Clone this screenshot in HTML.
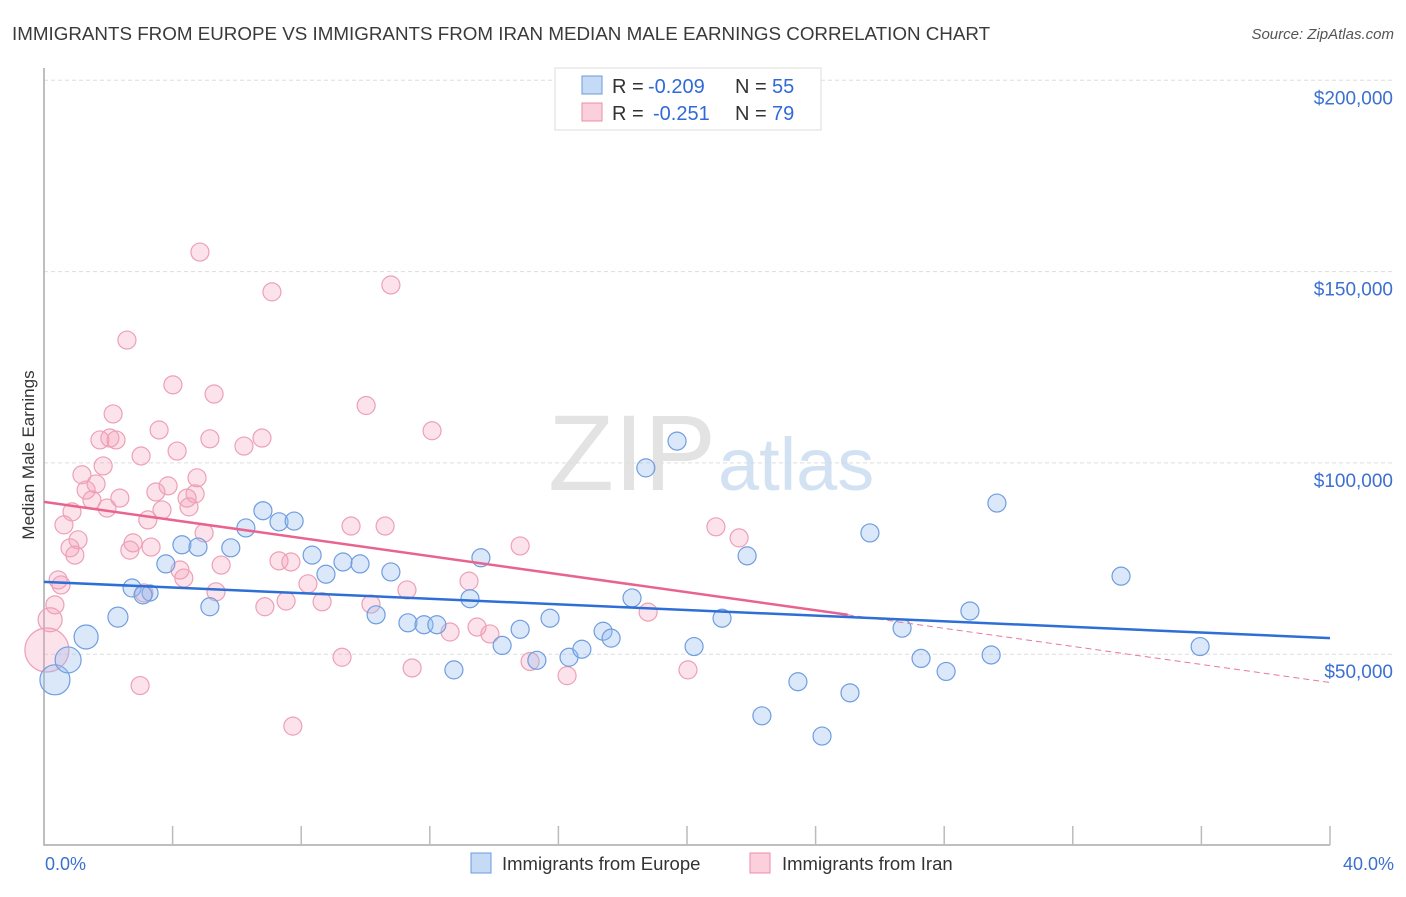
<!DOCTYPE html>
<html><head><meta charset="utf-8"><style>
body{margin:0;background:#fff;font-family:"Liberation Sans",sans-serif;}
svg text{font-family:"Liberation Sans",sans-serif;}
</style></head><body>
<svg id="chart" width="1406" height="892" viewBox="0 0 1406 892" xmlns="http://www.w3.org/2000/svg">
<text x="12" y="40" font-size="18.8" fill="#3a3a3a">IMMIGRANTS FROM EUROPE VS IMMIGRANTS FROM IRAN MEDIAN MALE EARNINGS CORRELATION CHART</text>
<text x="1394" y="39" font-size="15" fill="#555" font-style="italic" text-anchor="end">Source: ZipAtlas.com</text>
<g id="grid"></g>
<text x="716" y="490" font-size="108" fill="#ddd" text-anchor="end" font-family="Liberation Serif" opacity="0.8">ZIP</text>
<text x="718" y="490" font-size="74" fill="#c9dcf0" opacity="0.8">atlas</text>
<g id="dots"></g>
<g id="trends"></g>
<text x="34" y="455" font-size="17" fill="#333" text-anchor="middle" transform="rotate(-90 34 455)">Median Male Earnings</text>
<text x="45" y="870" font-size="18" fill="#3b6fd0">0.0%</text>
<text x="1394" y="870" font-size="18" fill="#3b6fd0" text-anchor="end">40.0%</text>
<g>
<rect x="555" y="68" width="266" height="62" fill="#fff" stroke="#ddd"/>
<rect x="582" y="76" width="20" height="18" fill="#c5daf5" stroke="#6a9ae0"/>
<rect x="582" y="103" width="20" height="18" fill="#fbd0dc" stroke="#ec8ca8"/>
<text x="612" y="93" font-size="20" fill="#333">R =</text>
<text x="648" y="93" font-size="20" fill="#2f6ad8">-0.209</text>
<text x="735" y="93" font-size="20" fill="#333">N =</text>
<text x="772" y="93" font-size="20" fill="#2f6ad8">55</text>
<text x="612" y="120" font-size="20" fill="#333">R =</text>
<text x="653" y="120" font-size="20" fill="#2f6ad8">-0.251</text>
<text x="735" y="120" font-size="20" fill="#333">N =</text>
<text x="772" y="120" font-size="20" fill="#2f6ad8">79</text>
</g>
<g>
<rect x="471" y="853" width="20" height="20" fill="#c5daf5" stroke="#6a9ae0"/>
<text x="502" y="870" font-size="18.5" fill="#333">Immigrants from Europe</text></g>
<g>
<rect x="750" y="853" width="20" height="20" fill="#fbd0dc" stroke="#ec8ca8"/>
<text x="782" y="870" font-size="18.5" fill="#333">Immigrants from Iran</text></g>
</svg>
<script>
const yTicks=[50000,100000,150000,200000];
const yTickLabels=["$50,000","$100,000","$150,000","$200,000"];
const europeX=[0.34,0.75,1.31,2.30,2.74,3.30,3.79,4.29,4.79,5.16,5.81,6.28,6.81,7.31,7.78,8.34,8.77,9.30,9.83,10.33,10.79,11.32,11.82,12.22,12.75,13.25,13.59,14.25,14.81,15.33,15.74,16.33,16.73,17.39,17.64,18.29,18.72,19.69,20.22,21.09,21.87,22.33,23.45,24.20,25.07,25.69,26.69,27.28,28.06,28.80,29.46,29.64,33.50,35.96,3.08];
const europeY=[43300,48500,54500,59700,67300,66000,73600,78600,78000,62400,77800,83000,87500,84600,84800,75900,70900,74100,73600,60300,71500,58200,57700,57700,45900,64500,75200,52300,56500,48400,59400,49200,51300,56000,54200,64700,98700,105700,52000,59400,75700,33900,42800,28600,39900,81700,56800,48900,45500,61300,49800,89500,70400,52000,65500];
const europeSize=[15,13,12,10,9,8];
const iranX=[0.09,0.19,0.34,0.44,0.53,0.62,0.81,0.87,0.96,1.06,1.18,1.31,1.49,1.62,1.74,1.84,1.96,2.05,2.15,2.24,2.36,2.58,2.67,2.77,2.99,3.02,3.11,3.23,3.33,3.48,3.58,3.67,3.86,4.01,4.14,4.23,4.35,4.45,4.51,4.70,4.76,4.85,4.98,5.16,5.29,5.35,5.51,6.22,6.78,6.87,7.09,7.31,7.53,7.68,7.74,8.21,8.65,9.27,9.55,10.02,10.17,10.61,10.79,11.29,11.45,12.07,12.63,13.22,13.47,13.87,14.81,15.12,16.27,18.79,20.03,20.90,21.62];
const iranY=[51100,59000,62900,69400,68100,83800,77800,87200,75900,79900,96900,92900,90300,94500,106000,99200,88200,106500,112800,106000,90800,132100,77200,79100,41800,101800,66000,85100,78000,92400,108600,87700,94000,120400,103100,72000,69900,90800,88500,91900,96100,155100,81700,106300,118000,66300,73300,104400,106500,62400,144700,74400,63900,74100,31200,68400,63700,49200,83500,115000,63100,83500,146500,66800,46400,108400,55800,69100,57100,55300,78300,48100,44400,61000,45900,83300,80400];
const iranSize=[22,12];
const europeTrend=[68900,54200];   // value at 0% and 40%
const iranTrend=[89800,60300,25]; // value at 0%, at end %, end %
const X=v=>44+v*32.15, Y=v=>845.5-v/50000*191.3;
const NS="http://www.w3.org/2000/svg";
function mk(tag,at,parent){const e=document.createElementNS(NS,tag);for(const k in at)e.setAttribute(k,at[k]);parent.appendChild(e);return e;}
const grid=document.getElementById('grid');
yTicks.forEach((t,i)=>{
 const l=mk('line',{x1:44,x2:1393,y1:Y(t),y2:Y(t),stroke:'#ddd','stroke-dasharray':'4 3'},grid);
 
 
 const tx=mk('text',{x:1393,y:Y(t)+24,'font-size':19,fill:'#3b6fd0','text-anchor':'end'},grid);
 tx.textContent=yTickLabels[i];
 
 
});
const ax=mk('path',{d:'M44 68V845H1330',fill:'none',stroke:'#aaa','stroke-width':1.5},grid);


for(let i=1;i<=10;i++){const t=mk('line',{x1:X(i*4),x2:X(i*4),y1:826,y2:845,stroke:'#bbb','stroke-width':1.5},grid);
 
 }
const dots=document.getElementById('dots');
iranX.forEach((x,i)=>{const c=mk('circle',{cx:X(x),cy:Y(iranY[i]),r:iranSize[i]||9,fill:'rgba(244,160,185,0.3)',stroke:'#eda0b6','stroke-width':1.2},dots);
 
 });
europeX.forEach((x,i)=>{const c=mk('circle',{cx:X(x),cy:Y(europeY[i]),r:europeSize[i]||9,fill:'rgba(150,190,240,0.35)',stroke:'#6f9de0','stroke-width':1.2},dots);
 
 });
const tr=document.getElementById('trends');
const sl=(iranTrend[1]-iranTrend[0])/iranTrend[2];
const d1=mk('line',{x1:X(iranTrend[2]),y1:Y(iranTrend[1]),x2:X(40),y2:Y(iranTrend[0]+sl*40),stroke:'#e77a9c','stroke-width':1,'stroke-dasharray':'6 4'},tr);


const l2=mk('line',{x1:X(0),y1:Y(iranTrend[0]),x2:X(iranTrend[2]),y2:Y(iranTrend[1]),stroke:'#e8648f','stroke-width':2.5},tr);


const l1=mk('line',{x1:X(0),y1:Y(europeTrend[0]),x2:X(40),y2:Y(europeTrend[1]),stroke:'#2d6fd6','stroke-width':2.5},tr);


</script>
</body></html>
